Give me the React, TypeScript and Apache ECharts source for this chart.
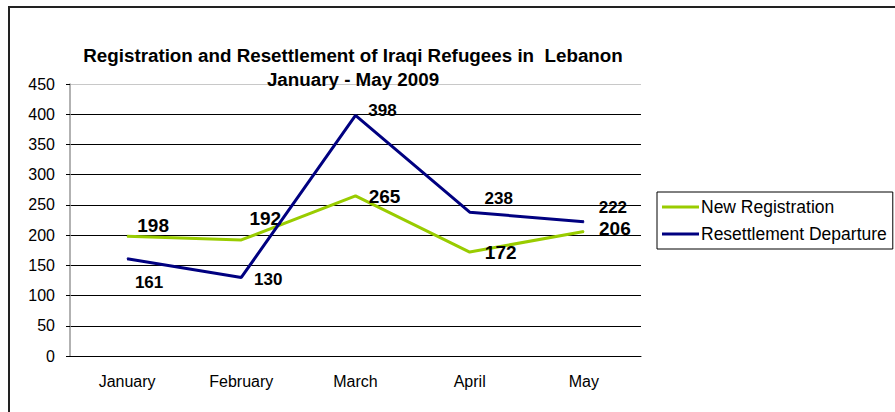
import React, { useEffect, useRef } from "react";
import * as echarts from "echarts";

const months = ["January", "February", "March", "April", "May"];
const newRegistration = [198, 192, 265, 172, 206];
const resettlementDeparture = [161, 130, 398, 238, 222];
const yTicks = [0, 50, 100, 150, 200, 250, 300, 350, 400, 450];

// label offsets (style) relative to each point
const nrOffsets = [[26, -11], [24, -21], [29, 1], [31, 0], [31, -3]];
const rdOffsets = [[22, 24], [27, 2], [27, -5], [29, -14], [29, -14]];

export default function App() {
  const ref = useRef<HTMLDivElement>(null);
  useEffect(() => {
    const chart = echarts.init(ref.current!, null, { renderer: "svg" });
    const font = "Arial, 'Liberation Sans', sans-serif";
    const mk = (vals: number[], offs: number[][]) =>
      vals.map((v, i) => ({ value: v, label: { offset: offs[i] } }));
    chart.setOption({
      animation: false,
      backgroundColor: "#fff",
      textStyle: { fontFamily: font },
      title: {
        text: "Registration and Resettlement of Iraqi Refugees in  Lebanon\nJanuary - May 2009",
        left: 353,
        top: 43,
        padding: 0,
        textAlign: "center",
        textStyle: { fontFamily: font, fontSize: 18.8, fontWeight: "bold", color: "#000", lineHeight: 24 },
      },
      legend: {
        left: 657,
        top: 192,
        orient: "vertical",
        icon: "rect",
        itemWidth: 37,
        itemHeight: 3,
        itemGap: 7,
        padding: [5, 6, 5, 5],
        borderColor: "#000",
        borderWidth: 1,
        textStyle: { fontFamily: font, fontSize: 17.5, color: "#000", lineHeight: 20, padding: [0, 0, 0, -3] },
        data: ["New Registration", "Resettlement Departure"],
      },
      grid: { left: 70, right: 254, top: 84, bottom: 56, containLabel: false },
      xAxis: {
        type: "category",
        data: months,
        boundaryGap: true,
        axisLine: { lineStyle: { color: "#000", width: 1 } },
        axisTick: { length: 4, lineStyle: { color: "#000" } },
        axisLabel: { fontFamily: font, fontSize: 16, color: "#000", margin: 17 },
      },
      yAxis: {
        type: "value",
        min: 0,
        max: 450,
        interval: 50,
        axisLine: { show: true, lineStyle: { color: "#999", width: 1.5 } },
        axisTick: { show: true, length: 4, lineStyle: { color: "#000" } },
        axisLabel: {
          fontFamily: font, fontSize: 16, color: "#000", margin: 15,
          formatter: (v: number) => (yTicks.includes(v) ? String(v) : ""),
        },
        splitLine: {
          lineStyle: {
            color: ["#000", "#000", "#000", "#000", "#000", "#000", "#000", "#000", "#000", "#c8c8c8"],
            width: 1,
          },
        },
      },
      graphic: [
        {
          type: "rect",
          shape: { x: 9, y: 7, width: 900, height: 420 },
          style: { fill: "none", stroke: "#222", lineWidth: 2 },
          silent: true,
        },
      ],
      series: [
        {
          name: "New Registration",
          type: "line",
          data: mk(newRegistration, nrOffsets),
          symbol: "circle",
          symbolSize: 1,
          lineStyle: { color: "#99cc00", width: 3 },
          itemStyle: { color: "#99cc00" },
          label: {
            show: true, position: "inside",
            fontFamily: font, fontSize: 19, fontWeight: "bold", color: "#000",
          },
          z: 2,
        },
        {
          name: "Resettlement Departure",
          type: "line",
          data: mk(resettlementDeparture, rdOffsets),
          symbol: "circle",
          symbolSize: 1,
          lineStyle: { color: "#000080", width: 3 },
          itemStyle: { color: "#000080" },
          label: {
            show: true, position: "inside",
            fontFamily: font, fontSize: 17, fontWeight: "bold", color: "#000",
          },
          z: 3,
        },
      ],
    });
    return () => chart.dispose();
  }, []);
  return (
    <div
      ref={ref}
      style={{ position: "absolute", left: 0, top: 0, width: 895, height: 412 }}
    />
  );
}
